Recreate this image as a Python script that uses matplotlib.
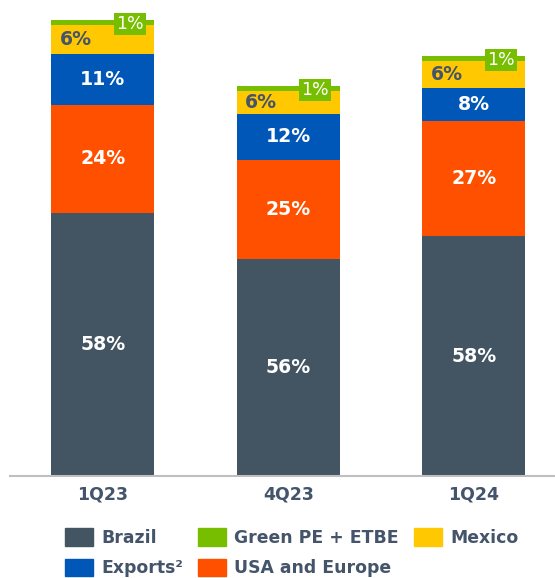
import matplotlib.pyplot as plt
from matplotlib.patches import Patch
import numpy as np

# relative volumes
quarters = ['1Q23', '4Q23', '1Q24']
brazil = [263, 217, 240]
usa_europe = [108, 99, 115]
exports = [51, 46, 33]
mexico = [29, 23, 27]
green = [5, 5, 5]

# labels printed on the bars
brazil_lbl = ['58%', '56%', '58%']
usa_lbl = ['24%', '25%', '27%']
exports_lbl = ['11%', '12%', '8%']
mexico_lbl = ['6%', '6%', '6%']
green_lbl = ['1%', '1%', '1%']

c_brazil = '#435462'
c_usa = '#ff5000'
c_exp = '#0057b8'
c_mex = '#ffc800'
c_green = '#78be00'
c_text = '#44546a'

plt.rcParams['font.family'] = 'DejaVu Sans'

fig = plt.figure(figsize=(5.55, 5.78), dpi=100)
ax = fig.add_axes([10/555, 1 - 476/578, 545/555, 476/578])

x = np.arange(len(quarters))
w = 0.555
b0 = np.zeros(3)
b1 = b0 + brazil
b2 = b1 + usa_europe
b3 = b2 + exports
b4 = b3 + mexico

ax.bar(x, brazil, w, bottom=b0, color=c_brazil, label='Brazil')
ax.bar(x, exports, w, bottom=b2, color=c_exp, label='Exports²')
ax.bar(x, green, w, bottom=b4, color=c_green, label='Green PE + ETBE')
ax.bar(x, usa_europe, w, bottom=b1, color=c_usa, label='USA and Europe')
ax.bar(x, mexico, w, bottom=b3, color=c_mex, label='Mexico')

fs = 13.6
for i in range(3):
    ax.text(x[i], b0[i] + brazil[i] / 2, brazil_lbl[i], ha='center', va='center',
            color='white', fontsize=fs, fontweight='bold')
    ax.text(x[i], b1[i] + usa_europe[i] / 2, usa_lbl[i], ha='center', va='center',
            color='white', fontsize=fs, fontweight='bold')
    ax.text(x[i], b2[i] + exports[i] / 2, exports_lbl[i], ha='center', va='center',
            color='white', fontsize=fs, fontweight='bold')
    ax.text(x[i] - w / 2 + 0.045, b3[i] + mexico[i] / 2, mexico_lbl[i], ha='left', va='center',
            color=c_text, fontsize=fs, fontweight='bold')
    ax.text(x[i] + 0.145, b4[i] + 1, green_lbl[i], ha='center', va='center',
            color='white', fontsize=12.5,
            bbox=dict(boxstyle='square,pad=0.12', fc=c_green, ec='none'))

ax.set_xlim(-0.501, 2.437)
ax.set_ylim(0, 476)
ax.set_xticks(x)
ax.set_xticklabels(quarters, fontsize=12.5, fontweight='bold', color=c_text)
ax.tick_params(axis='x', length=0, pad=7)
ax.set_yticks([])
for s in ['top', 'right', 'left']:
    ax.spines[s].set_visible(False)
ax.spines['bottom'].set_color('#bfbfbf')
ax.spines['bottom'].set_linewidth(1.5)

handles = [Patch(color=c_brazil), Patch(color=c_exp), Patch(color=c_green),
           Patch(color=c_usa), Patch(color=c_mex)]
labels = ['Brazil', 'Exports²', 'Green PE + ETBE', 'USA and Europe', 'Mexico']
leg = fig.legend(handles, labels, ncol=3, loc='upper left',
                 bbox_to_anchor=(65/555, 1 - 528/578), frameon=False,
                 fontsize=12.4, handlelength=1.63, handleheight=1.2,
                 handletextpad=0.47, columnspacing=0.87, labelspacing=0.7,
                 borderpad=0, borderaxespad=0)
for t in leg.get_texts():
    t.set_color(c_text)
    t.set_fontweight('bold')

fig.savefig('out.png', dpi=100)
